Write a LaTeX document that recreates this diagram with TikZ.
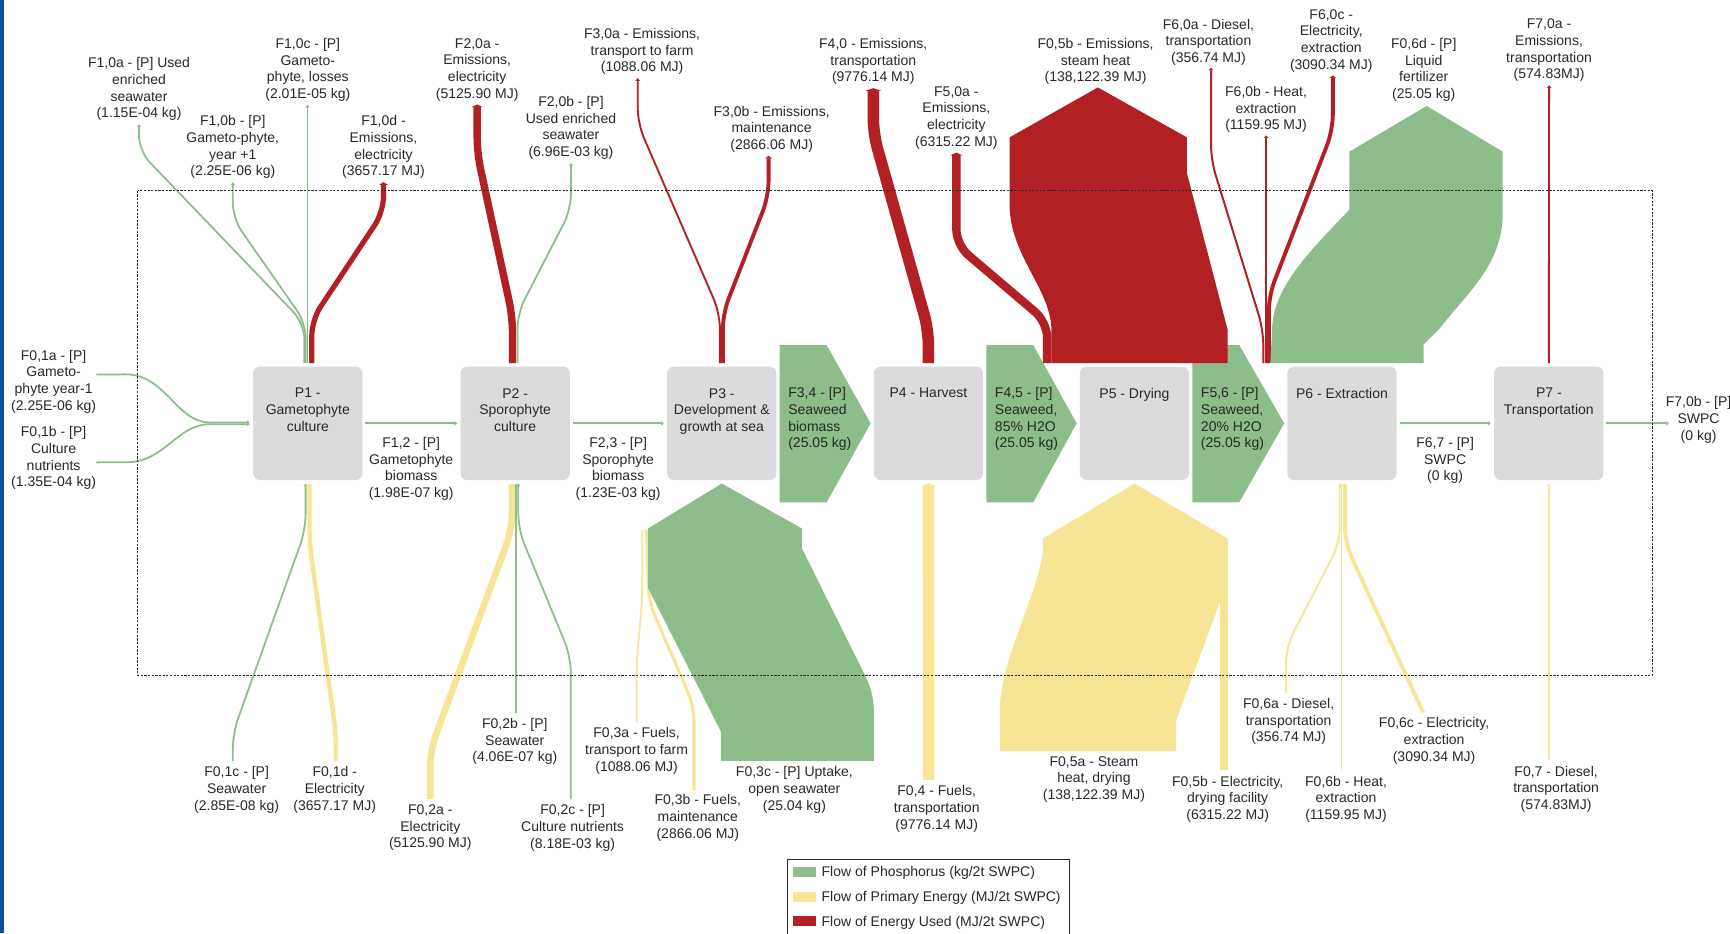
\documentclass[tikz,border=0pt]{standalone}
\usepackage{fontspec}
\setmainfont{Liberation Sans}
\usetikzlibrary{positioning,arrows.meta,calc}

\definecolor{phosgreen}{RGB}{141,189,138}
\definecolor{primyellow}{RGB}{246,229,149}
\definecolor{usedred}{RGB}{178,32,35}
\definecolor{boxgray}{RGB}{219,219,219}
\definecolor{inkgray}{RGB}{40,40,40}
\definecolor{sideblue}{RGB}{12,80,164}

\begin{document}
\begin{tikzpicture}[x=1pt, y=-1pt,
    font=\fontsize{12.7}{15.1}\selectfont, text=inkgray,
    proc/.style={rectangle, rounded corners=6pt, fill=boxgray, minimum width=99pt, minimum height=102.7pt, inner sep=0pt},
    lbl/.style={align=center, inner sep=0pt},
    flow/.style={line width=#1, rounded corners=14pt},
    pflow/.style={flow=#1, draw=phosgreen},
    eflow/.style={flow=#1, draw=primyellow},
    uflow/.style={flow=#1, draw=usedred},
    ftip/.style={-{Triangle[length=2.4pt, width=1.8pt 1.25]}}]

  \useasboundingbox (0,0) rectangle (1568,846);
  \fill[sideblue] (0,0) rectangle (3.4,846);

  % Process boxes
  \foreach \i/\x/\ptxt in {1/279/{P1 -\\Gametophyte\\culture}, 2/466.9/{P2 -\\Sporophyte\\culture}, 3/654.2/{P3 -\\Development \&\\growth at sea}, 4/841.5/{P4 - Harvest}, 5/1028.2/{P5 - Drying}, 6/1216.3/{P6 - Extraction}, 7/1403.8/{P7 -\\Transportation}} {
    \node[proc] (p\i) at (\x,383.7) {};
    \node[lbl, below=19.6pt of p\i.north] (p\i txt) {\ptxt};
  }

  % Labels above
  \node[lbl, anchor=north] (f10a) at (126,52.1) {F1,0a - [P] Used\\enriched\\seawater\\(1.15E-04 kg)};
  \node[lbl, anchor=north] (f10b) at (211,104.6) {F1,0b - [P]\\Gameto-phyte,\\year +1\\(2.25E-06 kg)};
  \node[lbl, anchor=north] (f10c) at (279,34.5) {F1,0c - [P]\\Gameto-\\phyte, losses\\(2.01E-05 kg)};
  \node[lbl, anchor=north] (f10d) at (347.6,104.6) {F1,0d -\\Emissions,\\electricity\\(3657.17 MJ)};
  \node[lbl, anchor=north] (f20a) at (432.5,34.5) {F2,0a -\\Emissions,\\electricity\\(5125.90 MJ)};
  \node[lbl, anchor=north] (f20b) at (517.5,87.2) {F2,0b - [P]\\Used enriched\\seawater\\(6.96E-03 kg)};
  \node[lbl, anchor=north] (f30a) at (582,25.4) {F3,0a - Emissions,\\transport to farm\\(1088.06 MJ)};
  \node[lbl, anchor=north] (f30b) at (699.4,95.8) {F3,0b - Emissions,\\maintenance\\(2866.06 MJ)};
  \node[lbl, anchor=north] (f40) at (791.5,34.5) {F4,0 - Emissions,\\transportation\\(9776.14 MJ)};
  \node[lbl, anchor=north] (f50a) at (866.8,78.2) {F5,0a -\\Emissions,\\electricity\\(6315.22 MJ)};
  \node[lbl, anchor=north] (f05bem) at (993,34.5) {F0,5b - Emissions,\\steam heat\\(138,122.39 MJ)};
  \node[lbl, anchor=north] (f60a) at (1095.3,17) {F6,0a - Diesel,\\transportation\\(356.74 MJ)};
  \node[lbl, anchor=north] (f60b) at (1147.5,78.2) {F6,0b - Heat,\\extraction\\(1159.95 MJ)};
  \node[lbl, anchor=north] (f60c) at (1206.6,8.2) {F6,0c -\\Electricity,\\extraction\\(3090.34 MJ)};
  \node[lbl, anchor=north] (f06d) at (1290.4,34.5) {F0,6d - [P]\\Liquid\\fertilizer\\(25.05 kg)};
  \node[lbl, anchor=north] (f70a) at (1404,17) {F7,0a -\\Emissions,\\transportation\\(574.83MJ)};

  % Labels below
  \node[lbl, anchor=north] (f01c) at (214.5,694.6) {F0,1c - [P]\\Seawater\\(2.85E-08 kg)};
  \node[lbl, anchor=north] (f01d) at (303.4,694.6) {F0,1d -\\Electricity\\(3657.17 MJ)};
  \node[lbl, anchor=north] (f02a) at (390,729.2) {F0,2a -\\Electricity\\(5125.90 MJ)};
  \node[lbl, anchor=north] (f02b) at (466.6,650.8) {F0,2b - [P]\\Seawater\\(4.06E-07 kg)};
  \node[lbl, anchor=north] (f02c) at (519,729.2) {F0,2c - [P]\\Culture nutrients\\(8.18E-03 kg)};
  \node[lbl, anchor=north] (f03a) at (577,659.2) {F0,3a - Fuels,\\transport to farm\\(1088.06 MJ)};
  \node[lbl, anchor=north] (f03b) at (632.5,720.2) {F0,3b - Fuels,\\maintenance\\(2866.06 MJ)};
  \node[lbl, anchor=north] (f03c) at (720,694.6) {F0,3c - [P] Uptake,\\open seawater\\(25.04 kg)};
  \node[lbl, anchor=north] (f04) at (849,711.8) {F0,4 - Fuels,\\transportation\\(9776.14 MJ)};
  \node[lbl, anchor=north] (f05a) at (991.5,685.5) {F0,5a - Steam\\heat, drying\\(138,122.39 MJ)};
  \node[lbl, anchor=north] (f05bel) at (1112.7,703) {F0,5b - Electricity,\\drying facility\\(6315.22 MJ)};
  \node[lbl, anchor=north] (f06a) at (1168,632.7) {F0,6a - Diesel,\\transportation\\(356.74 MJ)};
  \node[lbl, anchor=north] (f06b) at (1220,703) {F0,6b - Heat,\\extraction\\(1159.95 MJ)};
  \node[lbl, anchor=north] (f06c) at (1299.8,650.2) {F0,6c - Electricity,\\extraction\\(3090.34 MJ)};
  \node[lbl, anchor=north] (f07) at (1410.4,694) {F0,7 - Diesel,\\transportation\\(574.83MJ)};

  % Inputs on the left
  \node[lbl, anchor=north] (f01a) at (48.6,317) {F0,1a - [P]\\Gameto-\\phyte year-1\\(2.25E-06 kg)};
  \node[lbl, anchor=north] (f01b) at (48.6,386.5) {F0,1b - [P]\\Culture\\nutrients\\(1.35E-04 kg)};
  \draw[pflow=1.6pt, ftip, sharp corners] ([yshift=6.3pt]f01a.east) -- (114,339.3) .. controls (150,339.3) and (160,382.9) .. (190,382.9) -- ([xshift=-3pt,yshift=0.8pt]p1.west);
  \draw[pflow=1.6pt, ftip, sharp corners] ([yshift=-3.8pt]f01b.east) -- (114,419) .. controls (150,419) and (160,384.5) .. (190,384.5) -- ([xshift=-3pt,yshift=-0.8pt]p1.west);

  % Flows between the boxes
  \draw[pflow=1.6pt, ftip] ([xshift=2.5pt]p1.east) -- node[lbl, below=12pt] (f12) {F1,2 - [P]\\Gametophyte\\biomass\\(1.98E-07 kg)} ([xshift=-3pt]p2.west);
  \draw[pflow=1.6pt, ftip] ([xshift=2.5pt]p2.east) -- node[lbl, below=12pt] (f23) {F2,3 - [P]\\Sporophyte\\biomass\\(1.23E-03 kg)} ([xshift=-3pt]p3.west);
  \draw[pflow=1.6pt, ftip] ([xshift=2.5pt]p6.east) -- node[lbl, below=12pt] (f67) {F6,7 - [P]\\SWPC\\(0 kg)} ([xshift=-3pt]p7.west);
  \node[lbl, anchor=north] (f70b) at (1539.5,359.2) {F7,0b - [P]\\SWPC\\(0 kg)};
  \coordinate (f70bin) at (f70b.west |- p7.east);
  \draw[pflow=1.6pt, ftip] ([xshift=2.5pt]p7.east) -- ([xshift=3pt]f70bin);

  % Seaweed biomass arrows
  \foreach \a/\b/\atxt in {3/4/{F3,4 - [P]\\Seaweed\\biomass\\(25.05 kg)}, 4/5/{F4,5 - [P]\\Seaweed,\\85\% H2O\\(25.05 kg)}, 5/6/{F5,6 - [P]\\Seaweed,\\20\% H2O\\(25.05 kg)}} {
    \fill[phosgreen] ([xshift=2.8pt]p\a.east) coordinate (s\a) ++(0,-71) -- ++(42.5,0) -- ([xshift=-2.7pt]p\b.west) -- ($(s\a)+(42.5,71.6)$) -- ($(s\a)+(0,71.6)$) -- cycle;
    \node[lbl, align=left, anchor=north west] (f\a\b) at ($(s\a)+(7.6,-32.6)$) {\atxt};
  }

  % Outputs above the boxes
  \draw[pflow=1.6pt, ftip, shorten >=3pt] ([xshift=-3.2pt,yshift=3pt]p1.north) -- (275.8,293) -- (126,137) -- (f10a.south);
  \draw[pflow=1.6pt, ftip, shorten >=3pt] ([xshift=-1.8pt,yshift=3pt]p1.north) -- (277.2,293) -- (211,198) -- (f10b.south);
  \draw[pflow=1.6pt, ftip, shorten >=3pt] ([xshift=-0.4pt,yshift=3pt]p1.north) -- ([xshift=-0.4pt]f10c.south);
  \draw[uflow=4.7pt, ftip, shorten >=3pt] ([xshift=3.6pt,yshift=3pt]p1.north) -- (282.6,290) -- (347.6,192) -- (f10d.south);

  \draw[uflow=6.7pt, ftip, shorten >=3pt] ([xshift=-2.4pt,yshift=3pt]p2.north) -- (464.5,287) -- (432.5,139) -- (f20a.south);
  \draw[pflow=1.6pt, ftip, shorten >=3pt] ([xshift=2.1pt,yshift=3pt]p2.north) -- (469,284) -- (517.5,190) -- (f20b.south);

  \draw[uflow=1.7pt, ftip, shorten >=3pt] ([xshift=-1.7pt,yshift=3pt]p3.north) -- (652.5,284) -- (578,112) -- ([xshift=-4pt]f30a.south);
  \draw[uflow=3.5pt, ftip, shorten >=3pt] ([xshift=1pt,yshift=3pt]p3.north) -- (655.2,284) -- (696.6,178) -- ([xshift=-2.8pt]f30b.south);

  \draw[uflow=10.4pt, ftip, shorten >=3pt] ([yshift=3pt]p4.north) -- (841.5,299) -- (791.5,121) -- (f40.south);

  \draw[uflow=7.6pt, ftip, shorten >=3pt] ([xshift=-79.1pt,yshift=3pt]p5.north) -- (949.1,292) -- (866.8,222) -- (f50a.south);
  \fill[usedred] (953,329.2) -- (953,300) .. controls (953,262) and (915,232) .. (915,185) -- (915,124.5) -- ([xshift=2pt,yshift=-2.3pt]f05bem.south) -- (1075.8,124.5) -- (1075.8,157) -- (1112.7,299) -- (1112.7,329.2) -- cycle;

  \draw[uflow=1.8pt, ftip, shorten >=2pt] ([xshift=-71.3pt,yshift=3pt]p6.north) -- (1145,299) -- (1097.6,145) -- ([xshift=2.3pt]f60a.south);
  \draw[uflow=1.8pt, ftip, shorten >=2pt] ([xshift=-68.8pt,yshift=3pt]p6.north) -- (f60b.south);
  \draw[uflow=3.5pt, ftip, shorten >=3pt] ([xshift=-66.3pt,yshift=3pt]p6.north) -- (1150,268) -- (1208,118) -- ([xshift=1.4pt]f60c.south);
  \fill[phosgreen] (1151.3,329.2) -- (1153,299) .. controls (1153,260) and (1190,225) .. (1223,190) -- (1223,137.5) -- ([xshift=2.6pt,yshift=-4pt]f06d.south) -- (1362,137.5) -- (1362,193) .. controls (1362,240) and (1330,265) .. (1303.8,299) -- (1290.4,312) -- (1290.4,329.2) -- cycle;

  \draw[uflow=1.7pt, ftip, shorten >=3pt] ([yshift=3pt]p7.north) -- (f70a.south);

  % Inputs below the boxes
  \draw[pflow=1.6pt, ftip, shorten <=5pt] ([xshift=-3.5pt]f01c.north) -- (211,664.6) -- (277,480) -- ([xshift=-2pt,yshift=-3pt]p1.south);
  \draw[eflow=4pt, ftip, shorten <=5pt] ([xshift=1pt]f01d.north) -- (304.4,664.6) -- (280.5,492) -- ([xshift=1.5pt,yshift=-3pt]p1.south);

  \draw[eflow=6pt, ftip, shorten <=5pt] (f02a.north) -- (390,679.7) -- (464,480) -- ([xshift=-2.9pt,yshift=-3pt]p2.south);
  \draw[pflow=1.6pt, ftip, shorten <=5pt] ([xshift=1.4pt]f02b.north) -- ([xshift=1.1pt,yshift=-3pt]p2.south);
  \draw[pflow=1.6pt, ftip, shorten <=5pt] ([xshift=-1.7pt]f02c.north) -- (517.3,595) -- (469.8,480) -- ([xshift=2.9pt,yshift=-3pt]p2.south);

  \draw[eflow=1.6pt, shorten <=5pt] (f03a.north) -- (577,600) -- (582,545) -- (582,480);
  \draw[eflow=2.8pt, shorten <=4pt] ([xshift=-3.5pt]f03b.north) -- (629,640) -- (588,545) -- (586,480);
  \fill[phosgreen] (653.3,689.7) -- (653.3,663) -- (587.4,533) -- (587.4,479) -- ([yshift=-3pt]p3.south) -- (726.8,479) -- (726.8,497) -- (783,610) .. controls (789,622) and (792,632) .. (792,645) -- (792,689.7) -- cycle;

  \draw[eflow=10.4pt, ftip, shorten <=5pt] ([xshift=-7.4pt]f04.north) -- ([yshift=-3pt]p4.south);

  \fill[primyellow] (906.5,680.7) -- (906.5,640) .. controls (906.5,600) and (940,540) .. (945.3,500) -- (945.3,488) -- ([yshift=-3pt]p5.south) -- (1112.7,488) -- (1112.7,540) -- (1106,545) -- (1066,652.6) -- (1066,680.7) -- cycle;
  \draw[eflow=6.7pt, shorten <=5pt] ([xshift=-3.4pt]f05bel.north) -- (1109.3,490);

  \draw[eflow=1.7pt, ftip, shorten <=5pt] ([xshift=-2.3pt]f06a.north) -- (1165.7,586) -- (1214.3,492) -- ([xshift=-2pt,yshift=-3pt]p6.south);
  \draw[eflow=1.5pt, ftip, shorten <=5pt] ([xshift=-4pt]f06b.north) -- ([xshift=-0.3pt,yshift=-3pt]p6.south);
  \draw[eflow=3.4pt, ftip, shorten <=5pt] ([xshift=-7.8pt]f06c.north) -- (1219,492) -- ([xshift=2.7pt,yshift=-3pt]p6.south);

  \draw[eflow=1.7pt, ftip, shorten <=5pt] ([xshift=-6.6pt]f07.north) -- ([yshift=-3pt]p7.south);

  % Legend
  \draw[inkgray, line width=0.9pt] (714,779.4) rectangle (969.6,852);
  \foreach \col/\ltxt [count=\i] in {phosgreen/{Flow of Phosphorus (kg/2t SWPC)}, primyellow/{Flow of Primary Energy (MJ/2t SWPC)}, usedred/{Flow of Energy Used (MJ/2t SWPC)}} {
    \fill[\col] (718.5,763.5+22.3*\i) rectangle ++(20.8,9.2);
    \node[lbl, anchor=west] (leg\i) at (744.5,769.1+22.3*\i) {\ltxt};
  }

  % System boundary
  \draw[inkgray, line width=0.8pt, dash pattern=on 2pt off 1.3pt] (125,172.8) rectangle (1497.5,612.4);
\end{tikzpicture}
\end{document}
